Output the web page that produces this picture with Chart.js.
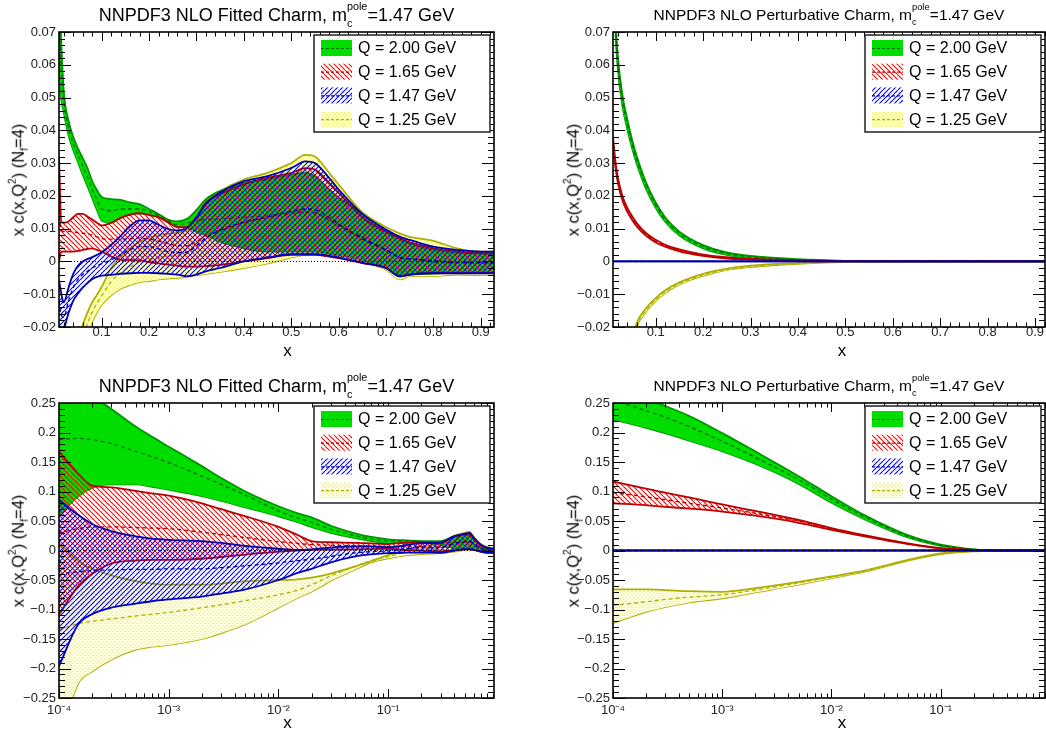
<!DOCTYPE html>
<html>
<head>
<meta charset="utf-8">
<script src="https://cdn.jsdelivr.net/npm/chart.js@4.4.1/dist/chart.umd.min.js"></script>
<style>
  body { margin: 0; background: #fff; width: 1046px; height: 733px; overflow: hidden; position: relative;
         font-family: "Liberation Sans", Arial, sans-serif; color: #000; }
  .panel { position: absolute; }
  .panel canvas { position: absolute; left: 0; top: 0; }
  .ttl { position: absolute; top: 3px; text-align: center; white-space: nowrap; line-height: 22px; }
  .ttl.big { font-size: 18px; }
  .ttl.small { font-size: 15.5px; top: 4px; }
  .ss { position: relative; display: inline-block; width: 1.15em; height: 1em; }
  .ss i { position: absolute; left: 0; font-style: normal; font-size: 0.6em; line-height: 1.15; }
  .ss .up { top: -0.26em; }
  .ss .dn { top: 1.31em; }
  .yt { position: absolute; transform: translate(-50%, -50%) rotate(-90deg); white-space: nowrap;
        font-size: 16.5px; line-height: 1; }
  .yt sup { font-size: 0.62em; vertical-align: 0.75em; line-height: 0; }
  .yt sub { font-size: 0.62em; vertical-align: -0.35em; line-height: 0; }
  .xt { position: absolute; transform: translate(-50%, -50%); font-size: 17px; line-height: 1; }
</style>
</head>
<body>

<div class="panel" style="left:0;top:0;width:523px;height:366px">
  <canvas id="c0" width="523" height="366"></canvas>
  <div class="ttl big" style="left:59px;width:435px">NNPDF3 NLO Fitted Charm, m<span class="ss"><i class="up">pole</i><i class="dn">c</i></span>=1.47 GeV</div>
  <div class="yt" style="left:18px;top:179.5px">x c(x,Q<sup>2</sup>) (N<sub>f</sub>=4)</div>
  <div class="xt" style="left:287.5px;top:350px">x</div>
</div>

<div class="panel" style="left:523px;top:0;width:523px;height:366px">
  <canvas id="c1" width="523" height="366"></canvas>
  <div class="ttl small" style="left:90px;width:432px">NNPDF3 NLO Perturbative Charm, m<span class="ss"><i class="up">pole</i><i class="dn">c</i></span>=1.47 GeV</div>
  <div class="yt" style="left:49.5px;top:179.5px">x c(x,Q<sup>2</sup>) (N<sub>f</sub>=4)</div>
  <div class="xt" style="left:319px;top:350px">x</div>
</div>

<div class="panel" style="left:0;top:371px;width:523px;height:362px">
  <canvas id="c2" width="523" height="362"></canvas>
  <div class="ttl big" style="left:59px;width:435px">NNPDF3 NLO Fitted Charm, m<span class="ss"><i class="up">pole</i><i class="dn">c</i></span>=1.47 GeV</div>
  <div class="yt" style="left:18px;top:179.5px">x c(x,Q<sup>2</sup>) (N<sub>f</sub>=4)</div>
  <div class="xt" style="left:287.5px;top:351px">x</div>
</div>

<div class="panel" style="left:523px;top:371px;width:523px;height:362px">
  <canvas id="c3" width="523" height="362"></canvas>
  <div class="ttl small" style="left:90px;width:432px">NNPDF3 NLO Perturbative Charm, m<span class="ss"><i class="up">pole</i><i class="dn">c</i></span>=1.47 GeV</div>
  <div class="yt" style="left:49.5px;top:179.5px">x c(x,Q<sup>2</sup>) (N<sub>f</sub>=4)</div>
  <div class="xt" style="left:319px;top:351px">x</div>
</div>

<script>
// ── Legend / axis ticks ─────────────────────────────────────────────────────
const legendLabels = ['Q = 2.00 GeV', 'Q = 1.65 GeV', 'Q = 1.47 GeV', 'Q = 1.25 GeV'];
const linXTicks = [0.1, 0.2, 0.3, 0.4, 0.5, 0.6, 0.7, 0.8, 0.9];
const logXTicks = [1e-4, 1e-3, 1e-2, 1e-1];
const yTicksTop = [-0.02, -0.01, 0, 0.01, 0.02, 0.03, 0.04, 0.05, 0.06, 0.07];
const yTicksBottom = [-0.25, -0.2, -0.15, -0.1, -0.05, 0, 0.05, 0.1, 0.15, 0.2, 0.25];

// ── Fitted charm, linear x (top left) ──────────────────────────────────────
const fitLinX = [0.01, 0.015, 0.02, 0.03, 0.04, 0.05, 0.06, 0.07, 0.08, 0.09, 0.10, 0.12, 0.14, 0.16, 0.18,
  0.20, 0.22, 0.24, 0.26, 0.28, 0.30, 0.32, 0.35, 0.40, 0.45, 0.50, 0.53, 0.55, 0.58, 0.60, 0.65, 0.70, 0.73,
  0.75, 0.80, 0.85, 0.90, 0.93];
const fitLinGreenUp = [0.085, 0.066, 0.052, 0.043, 0.038, 0.0345, 0.0315, 0.0285, 0.0245, 0.0218, 0.0197,
  0.019, 0.0188, 0.018, 0.0175, 0.016, 0.0145, 0.0128, 0.0122, 0.013, 0.0157, 0.019, 0.0215, 0.024, 0.025,
  0.0265, 0.027, 0.026, 0.022, 0.0195, 0.0145, 0.0095, 0.0068, 0.0055, 0.0035, 0.0027, 0.0024, 0.0024];
const fitLinGreenLo = [0.062, 0.0495, 0.0455, 0.0386, 0.034, 0.0303, 0.0265, 0.023, 0.0194, 0.0157, 0.0125,
  0.0118, 0.0133, 0.0143, 0.0147, 0.0142, 0.0135, 0.012, 0.0105, 0.0105, 0.009, 0.008, 0.006, 0.004, 0.003,
  0.003, 0.003, 0.003, 0.0025, 0.002, 0.0005, -0.002, -0.0045, -0.004, -0.0037, -0.0035, -0.0035, -0.0035];
const fitLinGreenMid = [0.074, 0.058, 0.049, 0.041, 0.036, 0.0325, 0.029, 0.0258, 0.022, 0.0188, 0.016,
  0.0155, 0.016, 0.016, 0.016, 0.0152, 0.014, 0.0124, 0.0113, 0.0117, 0.0125, 0.0128, 0.013, 0.0135, 0.014,
  0.015, 0.0152, 0.015, 0.0125, 0.011, 0.0075, 0.0035, 0.001, 0.0007, -0.0002, -0.0005, -0.0005, -0.0005];
const fitLinRedUp = [0.032, 0.012, 0.0118, 0.0122, 0.0135, 0.0145, 0.0145, 0.0137, 0.0128, 0.0118, 0.011,
  0.0118, 0.0133, 0.0143, 0.0147, 0.0142, 0.0135, 0.012, 0.0105, 0.0105, 0.0135, 0.018, 0.0205, 0.0235,
  0.0255, 0.027, 0.0285, 0.028, 0.024, 0.021, 0.0135, 0.009, 0.007, 0.0058, 0.004, 0.003, 0.0025, 0.0025];
const fitLinRedLo = [0.0, 0.003, 0.003, 0.003, 0.003, 0.0032, 0.0035, 0.0038, 0.004, 0.0035, 0.003, 0.0015,
  0.0005, 0.0004, 0.0003, -0.0002, -0.0006, -0.001, -0.0013, -0.0016, -0.0016, -0.0014, -0.0011, 0.0, 0.001,
  0.002, 0.002, 0.002, 0.0015, 0.001, -0.0005, -0.002, -0.0045, -0.004, -0.0035, -0.0035, -0.0035, -0.0035];
const fitLinRedMid = [0.016, 0.0095, 0.0092, 0.0092, 0.009, 0.0088, 0.0086, 0.0084, 0.008, 0.0075, 0.007,
  0.0068, 0.0068, 0.007, 0.0072, 0.0068, 0.0062, 0.0055, 0.0048, 0.0048, 0.006, 0.008, 0.0095, 0.0118,
  0.0133, 0.0145, 0.015, 0.0148, 0.0128, 0.011, 0.0068, 0.0035, 0.0012, 0.0008, 0.0002, -0.0004, -0.0005, -0.0005];
const fitLinBlueUp = [-0.0056, -0.010, -0.0125, -0.008, -0.0038, -0.0013, 0.0, 0.0007, 0.0013, 0.002, 0.0028,
  0.005, 0.0078, 0.0108, 0.0125, 0.0125, 0.0112, 0.0099, 0.0095, 0.0102, 0.0135, 0.0175, 0.021, 0.0245, 0.026,
  0.0285, 0.0305, 0.030, 0.0255, 0.022, 0.0145, 0.0097, 0.0075, 0.0066, 0.0045, 0.0035, 0.003, 0.003];
const fitLinBlueLo = [-0.019, -0.023, -0.021, -0.0158, -0.012, -0.0098, -0.008, -0.0066, -0.0054, -0.0047,
  -0.0043, -0.0041, -0.0038, -0.0036, -0.0035, -0.0035, -0.0036, -0.0038, -0.004, -0.0045, -0.004, -0.003,
  -0.002, 0.0, 0.0012, 0.0022, 0.0022, 0.0022, 0.0017, 0.0012, -0.0004, -0.002, -0.0046, -0.004, -0.0036,
  -0.0036, -0.0036, -0.0036];
const fitLinBlueMid = [-0.012, -0.0165, -0.017, -0.012, -0.008, -0.0055, -0.004, -0.003, -0.002, -0.0013,
  -0.0007, 0.0005, 0.002, 0.0036, 0.0045, 0.0045, 0.0038, 0.003, 0.0027, 0.0028, 0.0048, 0.0072, 0.0095,
  0.012, 0.0136, 0.0153, 0.016, 0.0158, 0.0135, 0.0115, 0.007, 0.0035, 0.0012, 0.0008, 0.0002, -0.0003,
  -0.0003, -0.0003];
const fitLinYellowUp = [-0.075, -0.062, -0.053, -0.040, -0.031, -0.025, -0.0195, -0.0156, -0.0125, -0.0102,
  -0.0078, -0.002, 0.0015, 0.004, 0.006, 0.0072, 0.008, 0.0085, 0.0088, 0.0095, 0.012, 0.0185, 0.0215, 0.025,
  0.027, 0.030, 0.0325, 0.032, 0.027, 0.0235, 0.015, 0.0105, 0.0085, 0.0075, 0.0063, 0.004, 0.003, 0.003];
const fitLinYellowLo = [-0.10, -0.09, -0.08, -0.062, -0.048, -0.038, -0.029, -0.0225, -0.0185, -0.0155,
  -0.0132, -0.0103, -0.0083, -0.0072, -0.0063, -0.006, -0.0055, -0.0052, -0.005, -0.0047, -0.0042, -0.0038,
  -0.0032, -0.002, -0.0006, 0.0012, 0.002, 0.0023, 0.0022, 0.0018, 0.0, -0.0025, -0.0055, -0.0045, -0.0045,
  -0.004, -0.0042, -0.0042];
const fitLinYellowMid = [-0.088, -0.076, -0.066, -0.051, -0.040, -0.031, -0.0245, -0.019, -0.0155, -0.0128,
  -0.0105, -0.0062, -0.0034, -0.0016, -0.0001, 0.0006, 0.0012, 0.0016, 0.0019, 0.0024, 0.004, 0.007, 0.009,
  0.0115, 0.013, 0.0155, 0.0165, 0.0163, 0.0145, 0.0125, 0.0075, 0.004, 0.0015, 0.001, 0.0008, 0.0, -0.0005, -0.0005];

// ── Perturbative charm, linear x (top right) ───────────────────────────────
const pertLinX = [0.01, 0.015, 0.02, 0.03, 0.04, 0.05, 0.06, 0.08, 0.1, 0.12, 0.15, 0.2, 0.25, 0.3, 0.4, 0.5, 0.6, 0.93];
const pertLinGreenUp = [0.098, 0.0755, 0.063, 0.0507, 0.0435, 0.0373, 0.0322, 0.024, 0.018, 0.0135, 0.0091, 0.005, 0.0028, 0.0017, 0.0007, 0.0002, 0, 0];
const pertLinGreenLo = [0.092, 0.0705, 0.059, 0.0473, 0.0405, 0.0347, 0.0298, 0.022, 0.0164, 0.0121, 0.0079, 0.004, 0.002, 0.0011, 0.0003, 0, 0, 0];
const pertLinGreenMid = [0.095, 0.073, 0.061, 0.049, 0.042, 0.036, 0.031, 0.023, 0.0172, 0.0128, 0.0085, 0.0045, 0.0024, 0.0014, 0.0005, 0.0001, 0, 0];
const pertLinRedUp = [0.038, 0.0307, 0.0258, 0.0199, 0.0164, 0.0139, 0.0117, 0.0086, 0.0066, 0.0051, 0.0037, 0.0021, 0.0013, 0.0008, 0.0004, 0.0001, 0, 0];
const pertLinRedLo = [0.036, 0.0289, 0.0242, 0.0185, 0.0152, 0.0127, 0.0107, 0.0078, 0.0058, 0.0045, 0.0031, 0.0017, 0.0009, 0.0006, 0.0002, 0, 0, 0];
const pertLinRedMid = [0.037, 0.0298, 0.025, 0.0192, 0.0158, 0.0133, 0.0112, 0.0082, 0.0062, 0.0048, 0.0034, 0.0019, 0.0011, 0.0007, 0.0003, 0.0001, 0, 0];
const pertLinBlue = [0, 0, 0, 0, 0, 0, 0, 0, 0, 0, 0, 0, 0, 0, 0, 0, 0, 0];
const pertLinYellowUp = [-0.087, -0.068, -0.0565, -0.041, -0.0311, -0.0238, -0.0187, -0.0142, -0.0112, -0.0088, -0.0064, -0.0038, -0.0022, -0.0013, -0.0005, 0, 0, 0];
const pertLinYellowLo = [-0.093, -0.072, -0.0595, -0.043, -0.0329, -0.0252, -0.0199, -0.0152, -0.012, -0.0096, -0.007, -0.0044, -0.0026, -0.0017, -0.0007, -0.0002, 0, 0];
const pertLinYellowMid = [-0.09, -0.07, -0.058, -0.042, -0.032, -0.0245, -0.0193, -0.0147, -0.0116, -0.0092, -0.0067, -0.0041, -0.0024, -0.0015, -0.0006, -0.0001, 0, 0];

// ── Fitted charm, log x (bottom left) ──────────────────────────────────────
const fitLogX = [1e-4, 1.5e-4, 2e-4, 3e-4, 5e-4, 7e-4, 1e-3, 2e-3, 3e-3, 5e-3, 1e-2, 1.5e-2, 2e-2, 3e-2, 5e-2,
  0.07, 0.1, 0.15, 0.2, 0.3, 0.4, 0.5, 0.55, 0.6, 0.7, 0.8, 0.92];
const fitLogGreenUp = [0.32, 0.285, 0.262, 0.24, 0.21, 0.193, 0.176, 0.143, 0.123, 0.1, 0.075, 0.063, 0.056,
  0.042, 0.029, 0.023, 0.019, 0.017, 0.016, 0.016, 0.024, 0.0265, 0.026, 0.0195, 0.0095, 0.0035, 0.0024];
const fitLogGreenLo = [0.06, 0.092, 0.106, 0.112, 0.112, 0.108, 0.103, 0.092, 0.084, 0.073, 0.058, 0.048, 0.04,
  0.03, 0.021, 0.016, 0.0125, 0.0133, 0.0142, 0.009, 0.004, 0.003, 0.003, 0.002, -0.002, -0.0037, -0.0035];
const fitLogGreenMid = [0.188, 0.19, 0.188, 0.181, 0.168, 0.159, 0.149, 0.126, 0.112, 0.094, 0.067, 0.055, 0.048,
  0.036, 0.025, 0.019, 0.016, 0.016, 0.0152, 0.0125, 0.0135, 0.015, 0.015, 0.011, 0.0035, -0.0002, -0.0005];
const fitLogRedUp = [0.168, 0.13, 0.11, 0.107, 0.101, 0.097, 0.093, 0.08, 0.07, 0.058, 0.04, 0.026, 0.016, 0.014,
  0.013, 0.012, 0.011, 0.0135, 0.0142, 0.0135, 0.0235, 0.027, 0.028, 0.021, 0.009, 0.004, 0.0025];
const fitLogRedLo = [-0.109, -0.06, -0.04, -0.022, -0.017, -0.016, -0.016, -0.014, -0.011, -0.007, -0.002, 0.0,
  0.001, 0.0015, 0.002, 0.0025, 0.003, 0.0005, -0.0002, -0.0016, 0.0, 0.002, 0.002, 0.001, -0.002, -0.0035, -0.0035];
const fitLogRedMid = [0.03, 0.037, 0.04, 0.04, 0.039, 0.038, 0.037, 0.031, 0.027, 0.022, 0.015, 0.012, 0.01, 0.009,
  0.008, 0.0075, 0.007, 0.0068, 0.0068, 0.006, 0.0118, 0.0145, 0.015, 0.011, 0.0035, 0.0002, -0.0005];
const fitLogBlueUp = [0.086, 0.06, 0.045, 0.033, 0.024, 0.02, 0.018, 0.016, 0.013, 0.008, 0.003, 0.001, 0.002,
  0.005, 0.007, 0.007, 0.0055, 0.0095, 0.0125, 0.0135, 0.0245, 0.0285, 0.03, 0.022, 0.0097, 0.0045, 0.003];
const fitLogBlueLo = [-0.196, -0.125, -0.108, -0.097, -0.09, -0.086, -0.083, -0.078, -0.073, -0.066, -0.05,
  -0.038, -0.031, -0.02, -0.01, -0.0065, -0.0043, -0.0037, -0.0035, -0.004, 0.0, 0.0022, 0.0022, 0.0012,
  -0.002, -0.0036, -0.0036];
const fitLogBlueMid = [-0.041, -0.036, -0.034, -0.033, -0.032, -0.032, -0.031, -0.031, -0.029, -0.026, -0.021,
  -0.017, -0.015, -0.01, -0.004, -0.002, -0.0007, 0.003, 0.0045, 0.0048, 0.012, 0.0153, 0.0158, 0.0115,
  0.0035, 0.0002, -0.0003];
const fitLogYellowUp = [0.013, -0.018, -0.031, -0.042, -0.052, -0.056, -0.058, -0.058, -0.056, -0.052, -0.05,
  -0.049, -0.046, -0.039, -0.027, -0.018, -0.0078, 0.0025, 0.0072, 0.012, 0.025, 0.030, 0.032, 0.0235,
  0.0105, 0.0063, 0.003];
const fitLogYellowLo = [-0.32, -0.225, -0.205, -0.185, -0.168, -0.163, -0.16, -0.15, -0.14, -0.125, -0.097,
  -0.08, -0.07, -0.051, -0.032, -0.02, -0.0132, -0.0078, -0.006, -0.0042, -0.002, 0.0012, 0.0023, 0.0018,
  -0.0025, -0.0045, -0.0042];
const fitLogYellowMid = [-0.134, -0.124, -0.12, -0.116, -0.111, -0.108, -0.105, -0.097, -0.092, -0.085, -0.075,
  -0.067, -0.058, -0.043, -0.027, -0.017, -0.0102, -0.0025, 0.0011, 0.004, 0.0115, 0.0155, 0.0165, 0.0125,
  0.004, 0.0008, -0.0005];

// ── Perturbative charm, log x (bottom right) ───────────────────────────────
const pertLogX = [1e-4, 2e-4, 3e-4, 5e-4, 1e-3, 2e-3, 5e-3, 1e-2, 2e-2, 5e-2, 0.1, 0.2, 0.3, 0.5, 0.92];
const pertLogGreenUp = [0.275, 0.257, 0.245, 0.228, 0.199, 0.168, 0.126, 0.092, 0.06, 0.026, 0.01, 0.002, 0.0005, 0, 0];
const pertLogGreenLo = [0.222, 0.208, 0.199, 0.186, 0.168, 0.147, 0.113, 0.081, 0.053, 0.022, 0.008, 0.0015, 0.0003, 0, 0];
const pertLogGreenMid = [0.255, 0.237, 0.226, 0.21, 0.185, 0.158, 0.12, 0.087, 0.057, 0.024, 0.009, 0.0018, 0.0004, 0, 0];
const pertLogRedUp = [0.117, 0.105, 0.098, 0.09, 0.078, 0.067, 0.052, 0.038, 0.026, 0.012, 0.004, 0.001, 0.0002, 0, 0];
const pertLogRedLo = [0.08, 0.077, 0.074, 0.071, 0.066, 0.059, 0.047, 0.035, 0.024, 0.011, 0.0035, 0.0008, 0.0002, 0, 0];
const pertLogRedMid = [0.098, 0.091, 0.086, 0.08, 0.072, 0.063, 0.05, 0.0365, 0.025, 0.0115, 0.0038, 0.0009, 0.0002, 0, 0];
const pertLogBlue = [0, 0, 0, 0, 0, 0, 0, 0, 0, 0, 0, 0, 0, 0, 0];
const pertLogYellowUp = [-0.066, -0.066, -0.067, -0.069, -0.07, -0.064, -0.053, -0.044, -0.034, -0.016, -0.005, -0.0012, -0.0003, 0, 0];
const pertLogYellowLo = [-0.123, -0.104, -0.096, -0.088, -0.081, -0.071, -0.058, -0.047, -0.036, -0.017, -0.006, -0.0014, -0.0004, 0, 0];
const pertLogYellowMid = [-0.093, -0.087, -0.083, -0.079, -0.075, -0.067, -0.055, -0.045, -0.035, -0.0165, -0.0055, -0.0013, -0.0003, 0, 0];

// ── Estilos ─────────────────────────────────────────────────────────────────
const FONT = '"Liberation Sans", Arial, sans-serif';

function hatch(ctx, color, dir) {
    const s = 5;
    const c = document.createElement('canvas');
    c.width = c.height = s;
    const g = c.getContext('2d');
    g.strokeStyle = color;
    g.lineWidth = 1.1;
    g.beginPath();
    for (let k = -1; k <= 1; k++) {
        if (dir === '\\') { g.moveTo(k * s, 0); g.lineTo(k * s + s, s); }
        else { g.moveTo(k * s, s); g.lineTo(k * s + s, 0); }
    }
    g.stroke();
    return ctx.createPattern(c, 'repeat');
}

// pale yellow stipple
function dots(ctx) {
    const c = document.createElement('canvas');
    c.width = c.height = 4;
    const g = c.getContext('2d');
    g.fillStyle = 'rgb(255,255,218)';
    g.fillRect(0, 0, 4, 4);
    g.fillStyle = 'rgb(245,245,110)';
    g.fillRect(0, 0, 2, 1);
    g.fillRect(2, 2, 2, 1);
    return ctx.createPattern(c, 'repeat');
}

// green, red, blue, yellow  (order = drawing depth, higher is further back)
function makeStyles(ctx) {
    return [
        { fill: 'rgb(0,222,0)', edge: 'rgb(0,150,0)', mid: 'rgb(0,105,0)', order: 3 },
        { fill: hatch(ctx, 'rgb(255,0,0)', '\\'), edge: 'rgb(185,0,0)', mid: 'rgb(185,0,0)', order: 2 },
        { fill: hatch(ctx, 'rgb(0,0,255)', '/'), edge: 'rgb(0,0,175)', mid: 'rgb(0,0,175)', order: 1 },
        { fill: dots(ctx), edge: 'rgb(175,175,0)', mid: 'rgb(175,175,0)', order: 4 },
    ];
}

const xy = (xs, ys) => xs.map((x, i) => ({ x, y: ys[i] }));

function bandSets(xs, [up, lo, mid], st) {
    const common = { pointRadius: 0, cubicInterpolationMode: 'monotone', clip: 0, order: st.order };
    return [
        { ...common, data: xy(xs, mid), borderColor: st.mid, borderWidth: 1.3, borderDash: [4, 3], fill: false },
        { ...common, data: xy(xs, up), borderColor: st.edge, borderWidth: 1.8, backgroundColor: st.fill, fill: '+1' },
        { ...common, data: xy(xs, lo), borderColor: st.edge, borderWidth: 1.8, fill: false },
    ];
}

const fmtY = v => v === 0 ? '0' : (v < 0 ? '\u2212' : '') + String(Math.abs(v));
const SUP = { '-': '\u207B', '1': '\u00B9', '2': '\u00B2', '3': '\u00B3', '4': '\u2074' };
const fmtLog = v => '10' + String(Math.round(Math.log10(v))).split('').map(ch => SUP[ch]).join('');

// ── Plugins: marco estilo ROOT y leyenda ────────────────────────────────────
const frameTicks = {
    id: 'frameTicks',
    afterDatasetsDraw(chart) {
        const { ctx, chartArea: a } = chart;
        const sx = chart.scales.x, sy = chart.scales.y;
        ctx.save();
        ctx.strokeStyle = '#000';
        ctx.lineWidth = 1;
        ctx.beginPath();
        const yStep = sy.ticks[1].value - sy.ticks[0].value;
        const yMinor = yStep / 5;
        for (let k = Math.ceil(sy.min / yMinor - 1e-6); k * yMinor <= sy.max + 1e-9; k++) {
            const v = k * yMinor;
            const major = Math.abs(v / yStep - Math.round(v / yStep)) < 1e-6;
            const len = major ? 12 : 6;
            const py = Math.round(sy.getPixelForValue(v)) + 0.5;
            ctx.moveTo(a.left, py); ctx.lineTo(a.left + len, py);
            ctx.moveTo(a.right, py); ctx.lineTo(a.right - len, py);
        }
        const xs = [];
        if (sx.type === 'logarithmic') {
            for (let e = -5; e <= 0; e++) {
                for (let m = 1; m <= 9; m++) {
                    const v = m * Math.pow(10, e);
                    if (v >= sx.min * 0.9999 && v <= sx.max) xs.push([v, m === 1]);
                }
            }
        } else {
            for (let k = Math.ceil(sx.min / 0.02 - 1e-6); k * 0.02 <= sx.max + 1e-9; k++) {
                const v = k * 0.02;
                xs.push([v, Math.abs(v * 10 - Math.round(v * 10)) < 1e-6]);
            }
        }
        xs.forEach(([v, major]) => {
            const len = major ? 9 : 4.5;
            const px = Math.round(sx.getPixelForValue(v)) + 0.5;
            ctx.moveTo(px, a.bottom); ctx.lineTo(px, a.bottom - len);
            ctx.moveTo(px, a.top); ctx.lineTo(px, a.top + len);
        });
        ctx.stroke();
        ctx.lineWidth = 1.6;
        ctx.strokeRect(a.left, a.top, a.right - a.left, a.bottom - a.top);
        ctx.restore();
    },
};

const legendBox = {
    id: 'legendBox',
    afterDraw(chart) {
        const { ctx, chartArea: a } = chart;
        const styles = chart.options.plugins.legendBox.styles;
        const right = a.right - 4, left = right - 176, top = a.top + 3, h = 97;
        ctx.save();
        ctx.fillStyle = '#fff';
        ctx.fillRect(left, top, right - left, h);
        ctx.strokeStyle = '#222';
        ctx.lineWidth = 1.5;
        ctx.strokeRect(left, top, right - left, h);
        legendLabels.forEach((lab, i) => {
            const st = styles[i];
            const cy = top + 13 + i * 23.7;
            ctx.fillStyle = st.fill;
            ctx.fillRect(left + 7, cy - 8, 31, 16);
            ctx.strokeStyle = st.mid;
            ctx.lineWidth = 1.2;
            ctx.setLineDash([3, 2]);
            ctx.beginPath();
            ctx.moveTo(left + 7, cy + 0.5);
            ctx.lineTo(left + 38, cy + 0.5);
            ctx.stroke();
            ctx.setLineDash([]);
            ctx.fillStyle = '#000';
            ctx.font = '16px ' + FONT;
            ctx.textBaseline = 'middle';
            ctx.fillText(lab, left + 44, cy + 1);
        });
        ctx.restore();
    },
};

// ── Paneles ─────────────────────────────────────────────────────────────────
const panels = [
    { id: 'c0', log: false, xMin: 0.01, xMax: 0.928, yTicks: yTicksTop, yAxisW: 59, padRight: 29, xAxisH: 39,
      xs: fitLinX, bands: [
        [fitLinGreenUp, fitLinGreenLo, fitLinGreenMid], [fitLinRedUp, fitLinRedLo, fitLinRedMid],
        [fitLinBlueUp, fitLinBlueLo, fitLinBlueMid], [fitLinYellowUp, fitLinYellowLo, fitLinYellowMid]] },
    { id: 'c1', log: false, xMin: 0.01, xMax: 0.921, yTicks: yTicksTop, yAxisW: 90, padRight: 1, xAxisH: 39,
      xs: pertLinX, bands: [
        [pertLinGreenUp, pertLinGreenLo, pertLinGreenMid], [pertLinRedUp, pertLinRedLo, pertLinRedMid],
        [pertLinBlue, pertLinBlue, pertLinBlue], [pertLinYellowUp, pertLinYellowLo, pertLinYellowMid]] },
    { id: 'c2', log: true, xMin: 1e-4, xMax: 0.92, yTicks: yTicksBottom, yAxisW: 59, padRight: 29, xAxisH: 35,
      xs: fitLogX, bands: [
        [fitLogGreenUp, fitLogGreenLo, fitLogGreenMid], [fitLogRedUp, fitLogRedLo, fitLogRedMid],
        [fitLogBlueUp, fitLogBlueLo, fitLogBlueMid], [fitLogYellowUp, fitLogYellowLo, fitLogYellowMid]] },
    { id: 'c3', log: true, xMin: 1e-4, xMax: 0.9, yTicks: yTicksBottom, yAxisW: 90, padRight: 1, xAxisH: 35,
      xs: pertLogX, bands: [
        [pertLogGreenUp, pertLogGreenLo, pertLogGreenMid], [pertLogRedUp, pertLogRedLo, pertLogRedMid],
        [pertLogBlue, pertLogBlue, pertLogBlue], [pertLogYellowUp, pertLogYellowLo, pertLogYellowMid]] },
];

panels.forEach(p => {
    const ctx = document.getElementById(p.id).getContext('2d');
    const styles = makeStyles(ctx);
    const datasets = [{
        data: [{ x: p.xMin, y: 0 }, { x: p.xMax, y: 0 }],
        borderColor: '#000', borderWidth: 1, borderDash: [1, 2], pointRadius: 0, fill: false, order: 0,
    }];
    p.bands.forEach((b, i) => datasets.push(...bandSets(p.xs, b, styles[i])));

    const tickFont = { family: FONT, size: 13 };
    new Chart(ctx, {
        type: 'line',
        data: { datasets },
        options: {
            responsive: false,
            animation: false,
            events: [],
            layout: { padding: { top: 32, right: p.padRight, left: 0, bottom: 0 } },
            plugins: {
                legend: { display: false },
                tooltip: { enabled: false },
                title: { display: false },
                legendBox: { styles },
            },
            scales: {
                x: {
                    type: p.log ? 'logarithmic' : 'linear',
                    min: p.xMin,
                    max: p.xMax,
                    afterBuildTicks: s => { s.ticks = (p.log ? logXTicks : linXTicks).map(v => ({ value: v })); },
                    afterFit: s => { s.height = p.xAxisH; },
                    ticks: {
                        callback: v => p.log ? fmtLog(v) : String(v),
                        font: tickFont, color: '#222', padding: p.log ? 5 : -2.5,
                        maxRotation: 0, autoSkip: false,
                    },
                    grid: { display: false, drawTicks: false },
                    border: { display: false },
                },
                y: {
                    min: p.yTicks[0],
                    max: p.yTicks[p.yTicks.length - 1],
                    afterBuildTicks: s => { s.ticks = p.yTicks.map(v => ({ value: v })); },
                    afterFit: s => { s.width = p.yAxisW; },
                    ticks: { callback: fmtY, font: tickFont, color: '#222', padding: 3, autoSkip: false },
                    grid: { display: false, drawTicks: false },
                    border: { display: false },
                },
            },
        },
        plugins: [frameTicks, legendBox],
    });
});
</script>
</body>
</html>
